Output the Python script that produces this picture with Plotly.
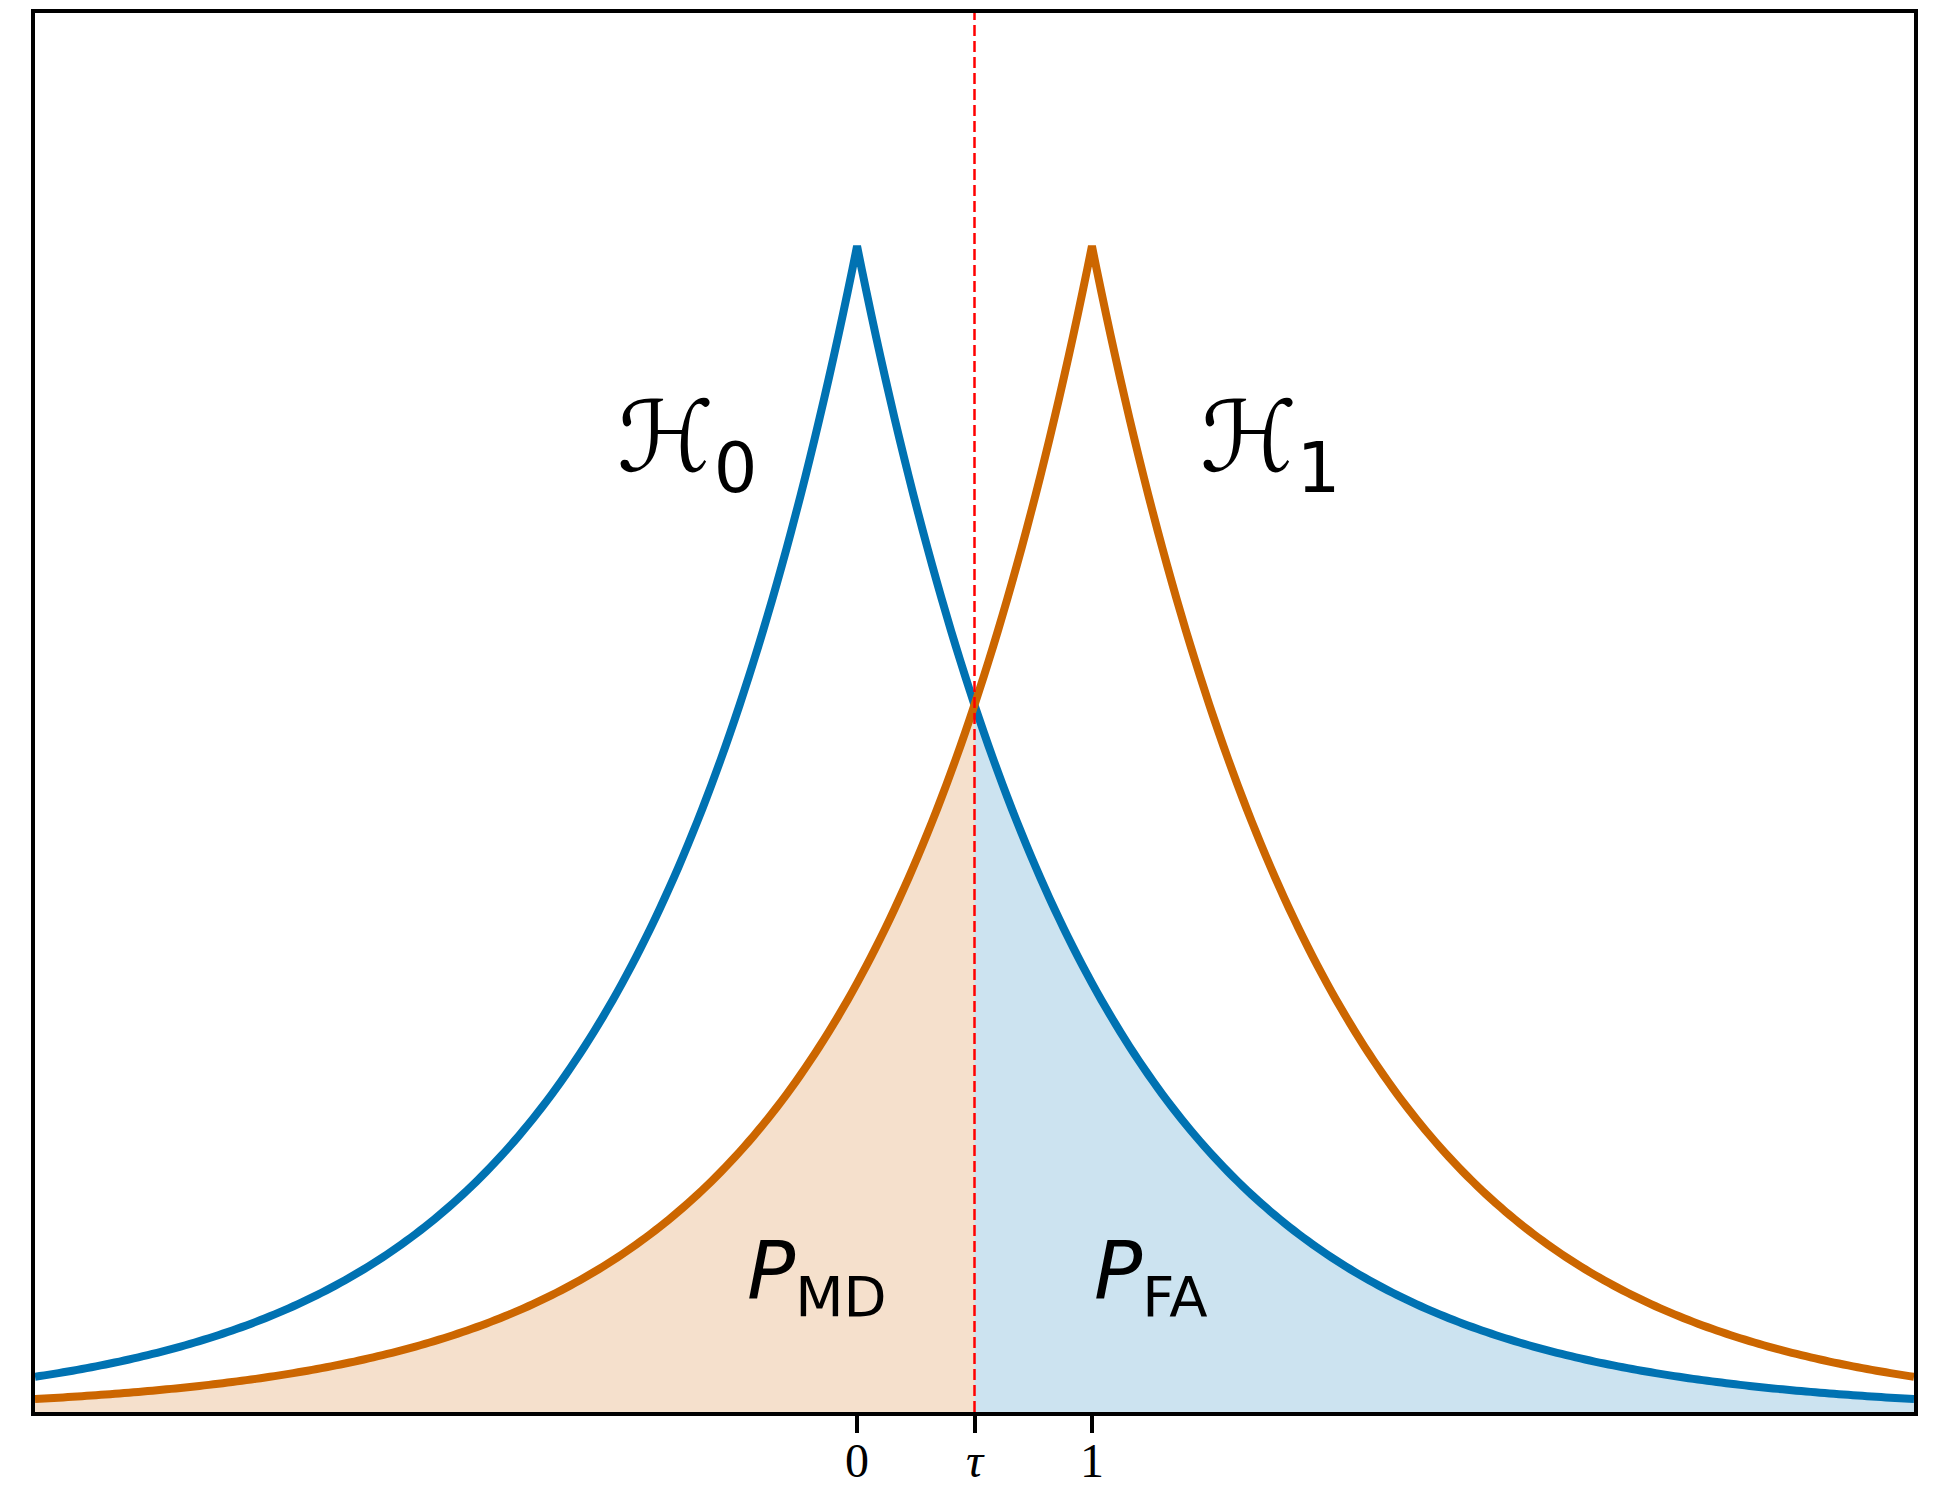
import numpy as np
import plotly.graph_objects as go

# Two Laplace hypotheses and the decision threshold
h0_location = 0.0
h1_location = 1.0
scale = 1.0
threshold = 0.5
x_range = [-3.5, 4.5]
y_range = [0.0, 0.6]
tick_values = [0.0, 0.5, 1.0]
tick_labels = ["0", "<i>τ</i>", "1"]

BLUE = "#0072B2"
ORANGE = "#CC6600"
BLUE_FILL = "rgba(0,114,178,0.2)"
ORANGE_FILL = "rgba(204,102,0,0.2)"


def laplace_pdf(x, loc, b):
    return np.exp(-np.abs(x - loc) / b) / (2.0 * b)


x = np.linspace(x_range[0], x_range[1], 401)
pdf0 = laplace_pdf(x, h0_location, scale)
pdf1 = laplace_pdf(x, h1_location, scale)

left = x <= threshold + 1e-9
right = x >= threshold - 1e-9

fig = go.Figure()

# Missed detection: H1 density below the threshold
fig.add_trace(go.Scatter(x=x[left], y=pdf1[left], mode="lines",
                         line=dict(width=0, simplify=False),
                         fill="tozeroy", fillcolor=ORANGE_FILL, hoverinfo="skip"))
# False alarm: H0 density above the threshold
fig.add_trace(go.Scatter(x=x[right], y=pdf0[right], mode="lines",
                         line=dict(width=0, simplify=False),
                         fill="tozeroy", fillcolor=BLUE_FILL, hoverinfo="skip"))

fig.add_trace(go.Scatter(x=x, y=pdf0, mode="lines",
                         line=dict(color=BLUE, width=8, simplify=False)))
fig.add_trace(go.Scatter(x=x, y=pdf1, mode="lines",
                         line=dict(color=ORANGE, width=8, simplify=False)))

fig.add_shape(type="line", x0=threshold, x1=threshold, xref="x", y0=0, y1=1, yref="paper",
              line=dict(color="#FF0000", width=2.5, dash="11px,5px"), layer="above")

label_font = dict(family="DejaVu Sans", size=98, color="black")
fig.add_annotation(x=-0.72, y=0.415, text="ℋ<sub>0</sub>", showarrow=False, font=label_font)
fig.add_annotation(x=1.76, y=0.415, text="ℋ<sub>1</sub>", showarrow=False, font=label_font)

sub_font = dict(family="DejaVu Sans", size=80, color="black")
fig.add_annotation(x=-0.17, y=0.058, text="<i>P</i><sub>MD</sub>", showarrow=False, font=sub_font)
fig.add_annotation(x=1.25, y=0.058, text="<i>P</i><sub>FA</sub>", showarrow=False, font=sub_font)

fig.update_xaxes(range=x_range, tickvals=tick_values, ticktext=tick_labels,
                 ticks="outside", ticklen=17, tickwidth=3.5, tickcolor="black",
                 tickfont=dict(family="Liberation Serif", size=48, color="black"),
                 ticklabelstandoff=-14,
                 showline=True, linewidth=4, linecolor="black", mirror=True,
                 showgrid=False, zeroline=False, automargin=False)
fig.update_yaxes(range=y_range, showticklabels=False, ticks="",
                 showline=True, linewidth=4, linecolor="black", mirror=True,
                 showgrid=False, zeroline=False, automargin=False)

fig.update_layout(width=1942, height=1490, showlegend=False,
                  paper_bgcolor="white", plot_bgcolor="white",
                  margin=dict(l=35, r=28, t=13, b=78, autoexpand=False))

fig.write_html("out.html")
